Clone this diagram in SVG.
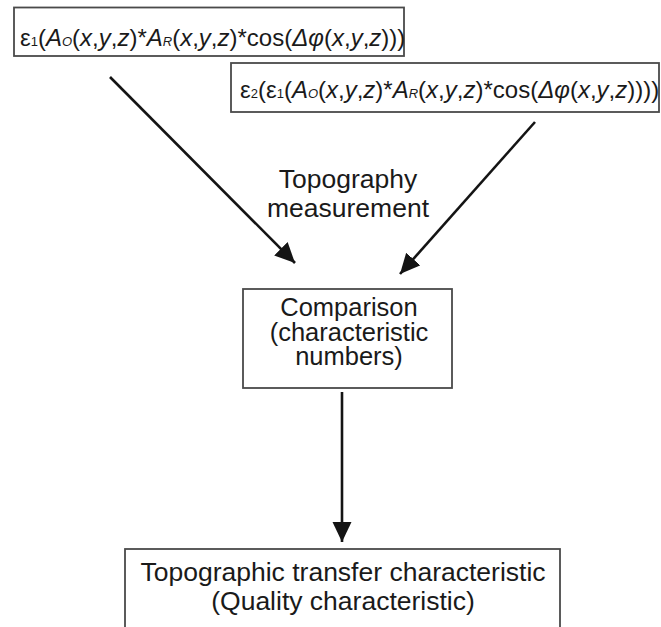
<svg xmlns="http://www.w3.org/2000/svg" width="661" height="627" viewBox="0 0 661 627">
<style>
.box{fill:#fff;stroke:#4a4a4a;stroke-width:1.8}
.t{font-family:"Liberation Sans",Arial,sans-serif;fill:#1a1a1a}
.f{font-size:24px}
.l{font-size:26.5px}
.m{font-size:25.5px}
.i{font-style:italic}
.sub{font-size:13px}
.c{stroke:#141414;stroke-width:2.6;fill:none}
</style>
<defs>
<marker id="ah" markerUnits="userSpaceOnUse" markerWidth="22" markerHeight="20" refX="20" refY="9.5" orient="auto">
<path d="M0,0 L20,9.5 L0,19 Z" fill="#141414"/>
</marker>
</defs>
<rect width="661" height="627" fill="#fff"/>
<g id="connectors">
<line class="c" x1="110" y1="77" x2="295" y2="263" marker-end="url(#ah)"/>
<line class="c" x1="535" y1="122" x2="400" y2="274" marker-end="url(#ah)"/>
<line class="c" x1="342" y1="392" x2="342" y2="542" marker-end="url(#ah)"/>
</g>
<g id="node-formula1">
<rect class="box" x="14" y="7.5" width="390" height="48.5"/>
<text class="t f" x="20" y="46">ε<tspan class="sub">1</tspan>(<tspan class="i">A</tspan><tspan class="sub i">O</tspan>(<tspan class="i">x</tspan>,<tspan class="i">y</tspan>,<tspan class="i">z</tspan>)*<tspan class="i">A</tspan><tspan class="sub i">R</tspan>(<tspan class="i">x</tspan>,<tspan class="i">y</tspan>,<tspan class="i">z</tspan>)*cos(<tspan class="i">Δφ</tspan>(<tspan class="i">x</tspan>,<tspan class="i">y</tspan>,<tspan class="i">z</tspan>)))</text>
</g>
<g id="node-formula2">
<rect class="box" x="231" y="63" width="428" height="49"/>
<text class="t f" x="240" y="98">ε<tspan class="sub">2</tspan>(ε<tspan class="sub">1</tspan>(<tspan class="i">A</tspan><tspan class="sub i">O</tspan>(<tspan class="i">x</tspan>,<tspan class="i">y</tspan>,<tspan class="i">z</tspan>)*<tspan class="i">A</tspan><tspan class="sub i">R</tspan>(<tspan class="i">x</tspan>,<tspan class="i">y</tspan>,<tspan class="i">z</tspan>)*cos(<tspan class="i">Δφ</tspan>(<tspan class="i">x</tspan>,<tspan class="i">y</tspan>,<tspan class="i">z</tspan>))))</text>
</g>
<g id="label-topography">
<text class="t l" text-anchor="middle" x="348" y="188">Topography</text>
<text class="t l" text-anchor="middle" x="348" y="217">measurement</text>
</g>
<g id="node-comparison">
<rect class="box" x="243" y="289" width="209" height="99"/>
<text class="t m" text-anchor="middle" x="349" y="316">Comparison</text>
<text class="t m" text-anchor="middle" x="349" y="340.5">(characteristic</text>
<text class="t m" text-anchor="middle" x="349" y="365">numbers)</text>
</g>
<g id="node-transfer">
<rect class="box" x="125" y="549" width="435" height="95"/>
<text class="t l" text-anchor="middle" x="343" y="581">Topographic transfer characteristic</text>
<text class="t l" text-anchor="middle" x="343" y="610">(Quality characteristic)</text>
</g>
</svg>
